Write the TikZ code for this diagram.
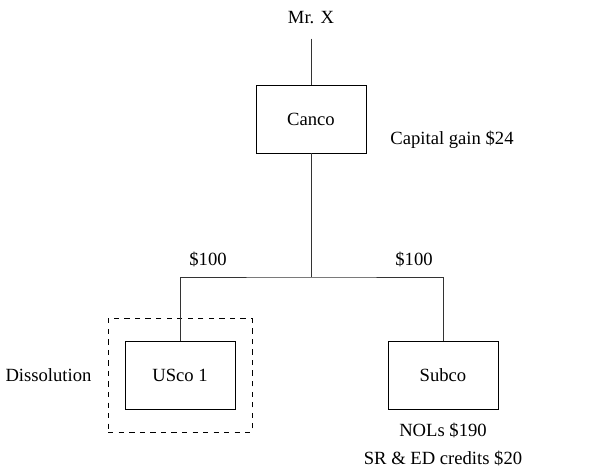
\documentclass[tikz,border=0pt]{standalone}
\usepackage{fontspec}
\setmainfont{Liberation Serif}
\usetikzlibrary{positioning}
\usetikzlibrary{fit}

\begin{document}
\begin{tikzpicture}
[
	entity/.style	= {rectangle, draw = black, minimum width = 2.2cm, minimum height = 1.36cm, inner sep = 0cm},
	comment/.style	= {inner sep = 0.1cm},
	every node/.style = {font = \fontsize{10.6}{15.6}\selectfont},
	link/.style = {thin, draw = black!80},
	node distance = 0.3cm and 0.3cm,
]

	\useasboundingbox (0,0) rectangle (12.18,9.34);

	\node (canco) [entity] at (6.22,6.96) {Canco};
	\node (mrx) [comment] at (6.22,8.98) {Mr. X};
	\node (gain) [comment] at (9.04,6.54) {Capital gain \$24};
	%
	\coordinate (split) at (6.22,3.80);
	\node (usco) [entity] at (3.60,1.83) {USco 1};
	\node (subco) [entity] at (8.86,1.83) {Subco};
	%
	\node (dissolve) [draw, dashed, inner xsep = 0.33cm, inner ysep = 0.45cm, fit = (usco)] {};
	\node (dissolution) [comment, left = 0.22cm of dissolve] {Dissolution};
	\node (amt1) [comment] at (4.16,4.16) {\$100};
	\node (amt2) [comment] at (8.28,4.16) {\$100};
	\node (losses) [comment, align = center, below = 0.16cm of subco] {NOLs \$190\\SR \& ED credits \$20};

	\draw [link, shorten < = 0.18cm] (mrx) -- (canco);
	\draw [link] (canco) -- (split);
	\draw [link] (usco) |- (split) -| (subco);

\end{tikzpicture}
\end{document}
